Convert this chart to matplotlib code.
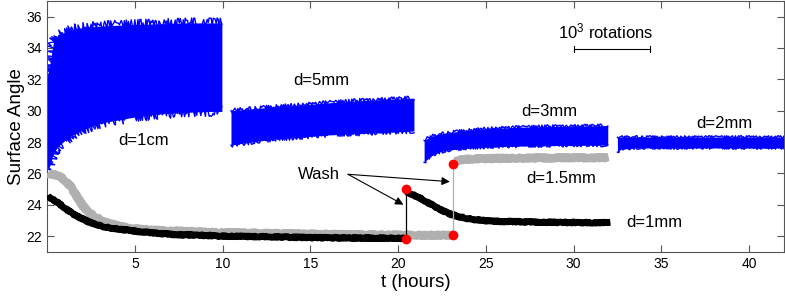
import matplotlib
matplotlib.use("Agg")
import matplotlib.pyplot as plt

plt.rcParams["font.family"] = ["Liberation Sans", "DejaVu Sans"]
plt.rcParams["mathtext.fontset"] = "custom"
plt.rcParams["mathtext.rm"] = "Liberation Sans"
plt.rcParams["mathtext.it"] = "Liberation Sans"

# blue raw signal envelopes (lower / upper edge of the noisy band)
seg1_t = [0.0, 0.15, 0.35, 0.6, 1.0, 1.5, 2.0, 3.0, 4.0, 5.0, 6.5, 8.0, 9.0, 9.95]
seg1_hi = [32.2, 33.0, 34.4, 34.8, 35.0, 35.2, 35.3, 35.4, 35.45, 35.5, 35.55, 35.6, 35.6, 35.6]
seg1_lo = [26.3, 26.5, 27.3, 27.7, 28.1, 28.5, 28.8, 29.2, 29.4, 29.6, 29.8, 29.9, 29.95, 29.95]

seg2_t = [10.47, 11.0, 12.0, 13.0, 14.4, 16.0, 18.0, 20.0, 20.9]
seg2_hi = [30.0, 30.05, 30.15, 30.25, 30.35, 30.5, 30.65, 30.75, 30.8]
seg2_lo = [27.8, 27.9, 28.05, 28.2, 28.3, 28.45, 28.55, 28.65, 28.7]

seg3_t = [21.48, 21.7, 22.0, 22.4, 23.0, 24.0, 25.0, 27.0, 29.0, 31.95]
seg3_hi = [28.1, 28.25, 28.4, 28.5, 28.62, 28.75, 28.85, 28.95, 29.0, 29.05]
seg3_lo = [26.7, 26.95, 27.2, 27.38, 27.5, 27.62, 27.68, 27.74, 27.78, 27.8]

seg4_t = [32.5, 32.7, 33.5, 36.0, 39.0, 42.0]
seg4_hi = [28.3, 28.32, 28.32, 28.32, 28.32, 28.32]
seg4_lo = [27.35, 27.55, 27.62, 27.62, 27.62, 27.62]

# d=1.5mm (gray) before / after wash
gray_t = [0.0, 0.3, 0.7, 1.0, 1.3, 1.5, 1.7, 1.85, 2.05, 2.25, 2.45, 2.7, 3.0, 3.4,
          4.0, 4.9, 6.0, 7.2, 10, 15, 20, 23.15]
gray_y = [26.0, 25.95, 25.8, 25.55, 25.2, 24.85, 24.5, 24.2, 23.9, 23.65, 23.45, 23.25,
          23.05, 22.85, 22.65, 22.47, 22.38, 22.32, 22.22, 22.12, 22.06, 22.05]
gray2_t = [23.15, 23.3, 23.7, 24.5, 26, 28, 30, 32.0]
gray2_y = [26.75, 26.82, 26.88, 26.93, 26.96, 26.98, 27.0, 27.0]

# d=1mm (black) before / after wash
black_t = [0.0, 0.35, 0.72, 1.1, 1.48, 1.95, 2.43, 2.9, 3.38, 4.1, 4.9, 6.0, 7.2, 10, 15, 20.45]
black_y = [24.6, 24.3, 24.03, 23.7, 23.4, 23.12, 22.87, 22.7, 22.55, 22.43, 22.33, 22.2,
           22.1, 22.0, 21.9, 21.85]
black2_t = [20.5, 20.9, 21.44, 21.9, 22.39, 22.85, 23.34, 23.8, 24.29, 25.24, 27.1, 29.0, 32.1]
black2_y = [24.83, 24.6, 24.3, 24.0, 23.7, 23.45, 23.27, 23.15, 23.06, 22.95, 22.91, 22.87, 22.85]

# wash points
wash_t = [20.45, 20.45, 23.15, 23.15]
wash_y = [21.78, 25.0, 22.06, 26.57]

fig = plt.figure(figsize=(7.85, 2.99), dpi=100)
ax = fig.add_axes([0.0603, 0.1582, 0.9385, 0.8385])

blue = (0, 0, 1)
for t, lo, hi, sc in [(seg1_t, seg1_lo, seg1_hi, 5.0),
                      (seg2_t, seg2_lo, seg2_hi, 2.2),
                      (seg3_t, seg3_lo, seg3_hi, 1.6),
                      (seg4_t, seg4_lo, seg4_hi, 1.3)]:
    ax.fill_between(t, lo, hi, color=blue, lw=0, zorder=2)
    for edge in (hi, lo):
        ln, = ax.plot(t, edge, color=blue, lw=1.0, zorder=2)
        ln.set_sketch_params(scale=sc, length=1.2, randomness=4)

gray = "#b0b0b0"
for t, y in [(gray_t, gray_y), (gray2_t, gray2_y)]:
    ln, = ax.plot(t, y, color=gray, lw=5.8, solid_capstyle="butt",
                  solid_joinstyle="round", zorder=3)
    ln.set_sketch_params(scale=0.8, length=1.5, randomness=4)
for t, y in [(black_t, black_y), (black2_t, black2_y)]:
    ln, = ax.plot(t, y, color="k", lw=4.8, solid_capstyle="butt",
                  solid_joinstyle="round", zorder=4)
    ln.set_sketch_params(scale=0.6, length=1.5, randomness=4)

ax.plot([wash_t[0], wash_t[1]], [wash_y[0], wash_y[1]], color="k", lw=0.9, zorder=4)
ax.plot([wash_t[2], wash_t[3]], [wash_y[2], wash_y[3]], color=gray, lw=0.9, zorder=4)
ax.plot(wash_t, wash_y, "o", color="red", ms=6, ls="none", zorder=5)

# labels
fs = 12
ax.text(5.46, 28.1, "d=1cm", ha="center", va="center", fontsize=fs)
ax.text(15.6, 31.9, "d=5mm", ha="center", va="center", fontsize=fs)
ax.text(28.6, 29.93, "d=3mm", ha="center", va="center", fontsize=fs)
ax.text(29.3, 25.68, "d=1.5mm", ha="center", va="center", fontsize=fs)
ax.text(34.6, 22.87, "d=1mm", ha="center", va="center", fontsize=fs)
ax.text(38.6, 29.2, "d=2mm", ha="center", va="center", fontsize=fs)

ax.text(15.47, 25.9, "Wash", ha="center", va="center", fontsize=fs)
for end in [(20.3, 24.0), (22.95, 25.47)]:
    ax.annotate("", xy=end, xytext=(17.14, 25.94),
                arrowprops=dict(arrowstyle="-|>", color="k", lw=0.8,
                                mutation_scale=12, shrinkA=0, shrinkB=0))

# scale bar
ax.text(31.8, 35.04, "10$^3$ rotations", ha="center", va="center", fontsize=12)
ax.plot([30.0, 34.36], [33.92, 33.92], color="k", lw=0.8)
ax.plot([30.0, 30.0], [33.72, 34.12], color="k", lw=0.8)
ax.plot([34.36, 34.36], [33.72, 34.12], color="k", lw=0.8)

ax.set_xlim(0, 42)
ax.set_ylim(21, 37)
ax.set_xticks([5, 10, 15, 20, 25, 30, 35, 40])
ax.set_yticks([22, 24, 26, 28, 30, 32, 34, 36])
ax.tick_params(direction="in", top=True, right=True, length=5, width=0.8,
               labelsize=10, color="#555555", pad=4)
for s in ax.spines.values():
    s.set_color("#555555")
    s.set_linewidth(0.8)

ax.set_xlabel("t (hours)", fontsize=13.5, labelpad=2)
ax.set_ylabel("Surface Angle", fontsize=13.5, labelpad=1)

fig.savefig("out.png", dpi=100)
